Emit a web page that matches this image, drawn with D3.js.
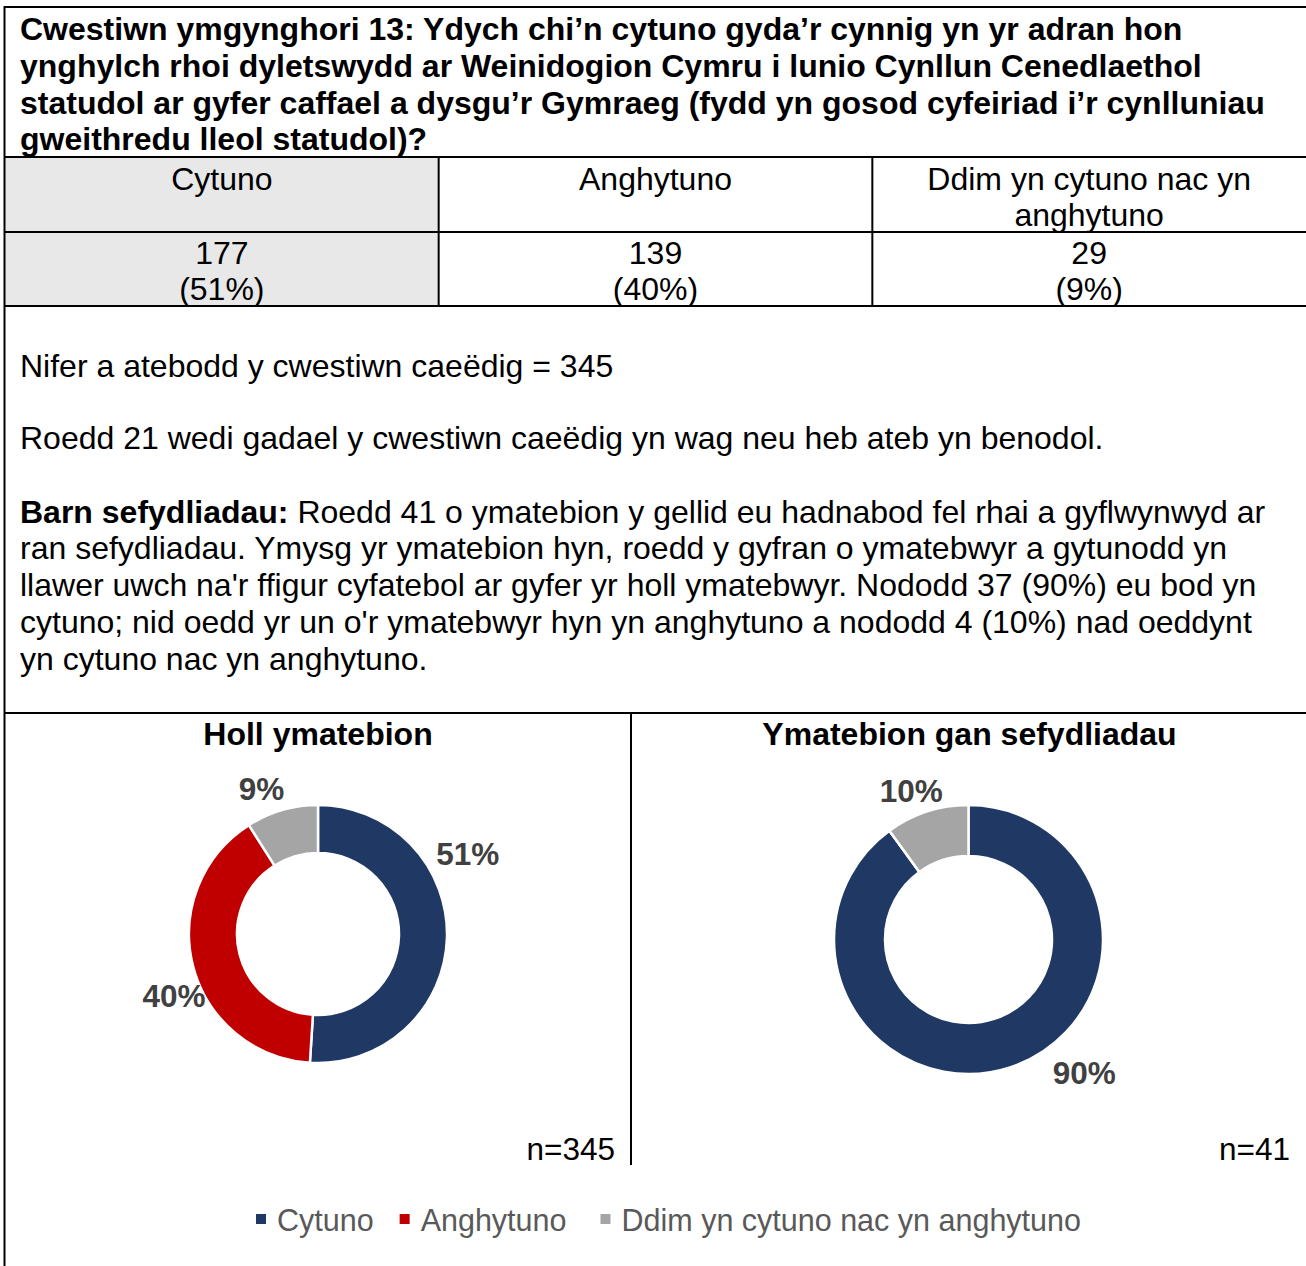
<!DOCTYPE html>
<html lang="cy">
<head>
<meta charset="UTF-8">
<title>Cwestiwn ymgynghori 13</title>
<style>
  body { margin: 0; background: #fff; }
  text { font-family: "Liberation Sans", Arial, sans-serif; }
</style>
</head>
<body>
<script src="https://d3js.org/d3.v7.min.js"></script>
<script>
// data
var categories = ["Cytuno", "Anghytuno", "Ddim yn cytuno nac yn anghytuno"];
var counts = [177, 139, 29];
var countPct = [51, 40, 9];
var allPct = [51, 40, 9];
var orgPct = [90, 0, 10];
var nAll = 345, nOrg = 41;
var chartTitles = ["Holl ymatebion", "Ymatebion gan sefydliadau"];
var titleLines = [
  "Cwestiwn ymgynghori 13: Ydych chi’n cytuno gyda’r cynnig yn yr adran hon",
  "ynghylch rhoi dyletswydd ar Weinidogion Cymru i lunio Cynllun Cenedlaethol",
  "statudol ar gyfer caffael a dysgu’r Gymraeg (fydd yn gosod cyfeiriad i’r cynlluniau",
  "gweithredu lleol statudol)?"
];
var paraLines = [
  "ran sefydliadau. Ymysg yr ymatebion hyn, roedd y gyfran o ymatebwyr a gytunodd yn",
  "llawer uwch na'r ffigur cyfatebol ar gyfer yr holl ymatebwyr. Nododd 37 (90%) eu bod yn",
  "cytuno; nid oedd yr un o'r ymatebwyr hyn yn anghytuno a nododd 4 (10%) nad oeddynt",
  "yn cytuno nac yn anghytuno."
];

var colors = ["#203864", "#C00000", "#A5A5A5"];
var width = 1306, height = 1266;
var lh = 36.8;

var svg = d3.select("body").append("svg")
  .attr("width", width).attr("height", height);

// frame lines
function hline(y, x1, x2) {
  svg.append("line").attr("x1", x1).attr("x2", x2).attr("y1", y).attr("y2", y)
    .attr("stroke", "#000").attr("stroke-width", 2);
}
function vline(x, y1, y2) {
  svg.append("line").attr("x1", x).attr("x2", x).attr("y1", y1).attr("y2", y2)
    .attr("stroke", "#000").attr("stroke-width", 2);
}

// table
var colX = d3.scaleBand().domain(d3.range(3)).range([5, width]);
svg.append("rect").attr("x", colX(0)).attr("y", 157).attr("width", colX.bandwidth())
  .attr("height", 149).attr("fill", "#E8E8E8");

hline(7, 5, width);
hline(157, 5, width);
hline(232, 5, width);
hline(306, 5, width);
hline(713, 5, width);
vline(colX(1), 157, 306);
vline(colX(2), 157, 306);
vline(631, 713, 1165);
vline(4.5, 6, height);

// title
svg.selectAll(".ttl").data(titleLines).enter().append("text")
  .attr("x", 20).attr("y", function(d, i) { return 40 + i * lh; })
  .attr("font-size", 32).attr("font-weight", "bold").attr("fill", "#000")
  .text(function(d) { return d; });

// header cells, wrapped to the column
categories.forEach(function(c, i) {
  var t = svg.append("text").attr("text-anchor", "middle").attr("font-size", 32).attr("fill", "#000");
  var cx = colX(i) + colX.bandwidth() / 2;
  var words = c.split(" "), line = [], lines = [];
  var tmp = t.append("tspan");
  words.forEach(function(w) {
    line.push(w);
    tmp.text(line.join(" "));
    if (tmp.node().getComputedTextLength() > colX.bandwidth() - 40 && line.length > 1) {
      line.pop();
      lines.push(line.join(" "));
      line = [w];
    }
  });
  lines.push(line.join(" "));
  tmp.remove();
  lines.forEach(function(l, j) {
    t.append("tspan").attr("x", cx).attr("y", 189.5 + j * lh).text(l);
  });
  t = svg.append("text").attr("text-anchor", "middle").attr("font-size", 32).attr("fill", "#000");
  t.append("tspan").attr("x", cx).attr("y", 263.5).text(counts[i]);
  t.append("tspan").attr("x", cx).attr("y", 300).text("(" + countPct[i] + "%)");
});

// paragraph
svg.append("text").attr("x", 20).attr("y", 376.5).attr("font-size", 32)
  .text("Nifer a atebodd y cwestiwn caeëdig = " + nAll);
svg.append("text").attr("x", 20).attr("y", 448.5).attr("font-size", 32)
  .text("Roedd 21 wedi gadael y cwestiwn caeëdig yn wag neu heb ateb yn benodol.");
var p = svg.append("text").attr("x", 20).attr("y", 522.5).attr("font-size", 32);
p.append("tspan").attr("font-weight", "bold").text("Barn sefydliadau:");
p.append("tspan").text(" Roedd " + nOrg + " o ymatebion y gellid eu hadnabod fel rhai a gyflwynwyd ar");
svg.selectAll(".para").data(paraLines).enter().append("text")
  .attr("x", 20).attr("y", function(d, i) { return 522.5 + (i + 1) * lh; })
  .attr("font-size", 32).text(function(d) { return d; });

// donuts
var charts = [
  { values: allPct, n: nAll, title: chartTitles[0], cx: 318, cy: 934, r: 129, ir: 81, tx: 318, nx: 615,
    shift: [-30, -9, -5], off: [41, 28, 27] },
  { values: orgPct, n: nOrg, title: chartTitles[1], cx: 968.5, cy: 939.5, r: 134.5, ir: 83.5, tx: 969.5, nx: 1290,
    shift: [-23, 0, -3], off: [42, 0, 25] }
];

var pie = d3.pie().sort(null).value(function(d) { return d; });

charts.forEach(function(ch) {
  svg.append("text").attr("x", ch.tx).attr("y", 744.5).attr("text-anchor", "middle")
    .attr("font-size", 32).attr("font-weight", "bold").attr("fill", "#000").text(ch.title);

  var g = svg.append("g").attr("transform", "translate(" + ch.cx + "," + ch.cy + ")");
  var arc = d3.arc().innerRadius(ch.ir).outerRadius(ch.r);
  var arcs = pie(ch.values);

  g.selectAll("path").data(arcs).enter().append("path")
    .attr("d", arc)
    .attr("fill", function(d, i) { return colors[i]; })
    .attr("stroke", "#fff").attr("stroke-width", 2.5);

  g.selectAll(".lbl").data(arcs.filter(function(d) { return d.value > 0; })).enter().append("text")
    .attr("transform", function(d) {
      var a = (d.startAngle + d.endAngle) / 2 + ch.shift[d.index] * Math.PI / 180;
      var rr = ch.r + ch.off[d.index];
      var la = d3.arc().innerRadius(rr).outerRadius(rr);
      return "translate(" + la.centroid({ startAngle: a, endAngle: a }) + ")";
    })
    .attr("dy", "0.35em").attr("text-anchor", "middle")
    .attr("font-size", 31.5).attr("font-weight", "bold").attr("fill", "#404040")
    .text(function(d) { return d.value + "%"; });

  svg.append("text").attr("x", ch.nx).attr("y", 1159.5).attr("text-anchor", "end")
    .attr("font-size", 31.5).attr("fill", "#000").text("n=" + ch.n);
});

// legend
var lx = 256;
var gaps = [26, 34, 0];
categories.forEach(function(c, i) {
  svg.append("rect").attr("x", lx).attr("y", 1214).attr("width", 10).attr("height", 10)
    .attr("fill", colors[i]);
  var t = svg.append("text").attr("x", lx + 21).attr("y", 1231).attr("font-size", 30.5)
    .attr("fill", "#595959").text(c);
  lx = lx + 21 + t.node().getComputedTextLength() + gaps[i];
});
</script>
</body>
</html>
